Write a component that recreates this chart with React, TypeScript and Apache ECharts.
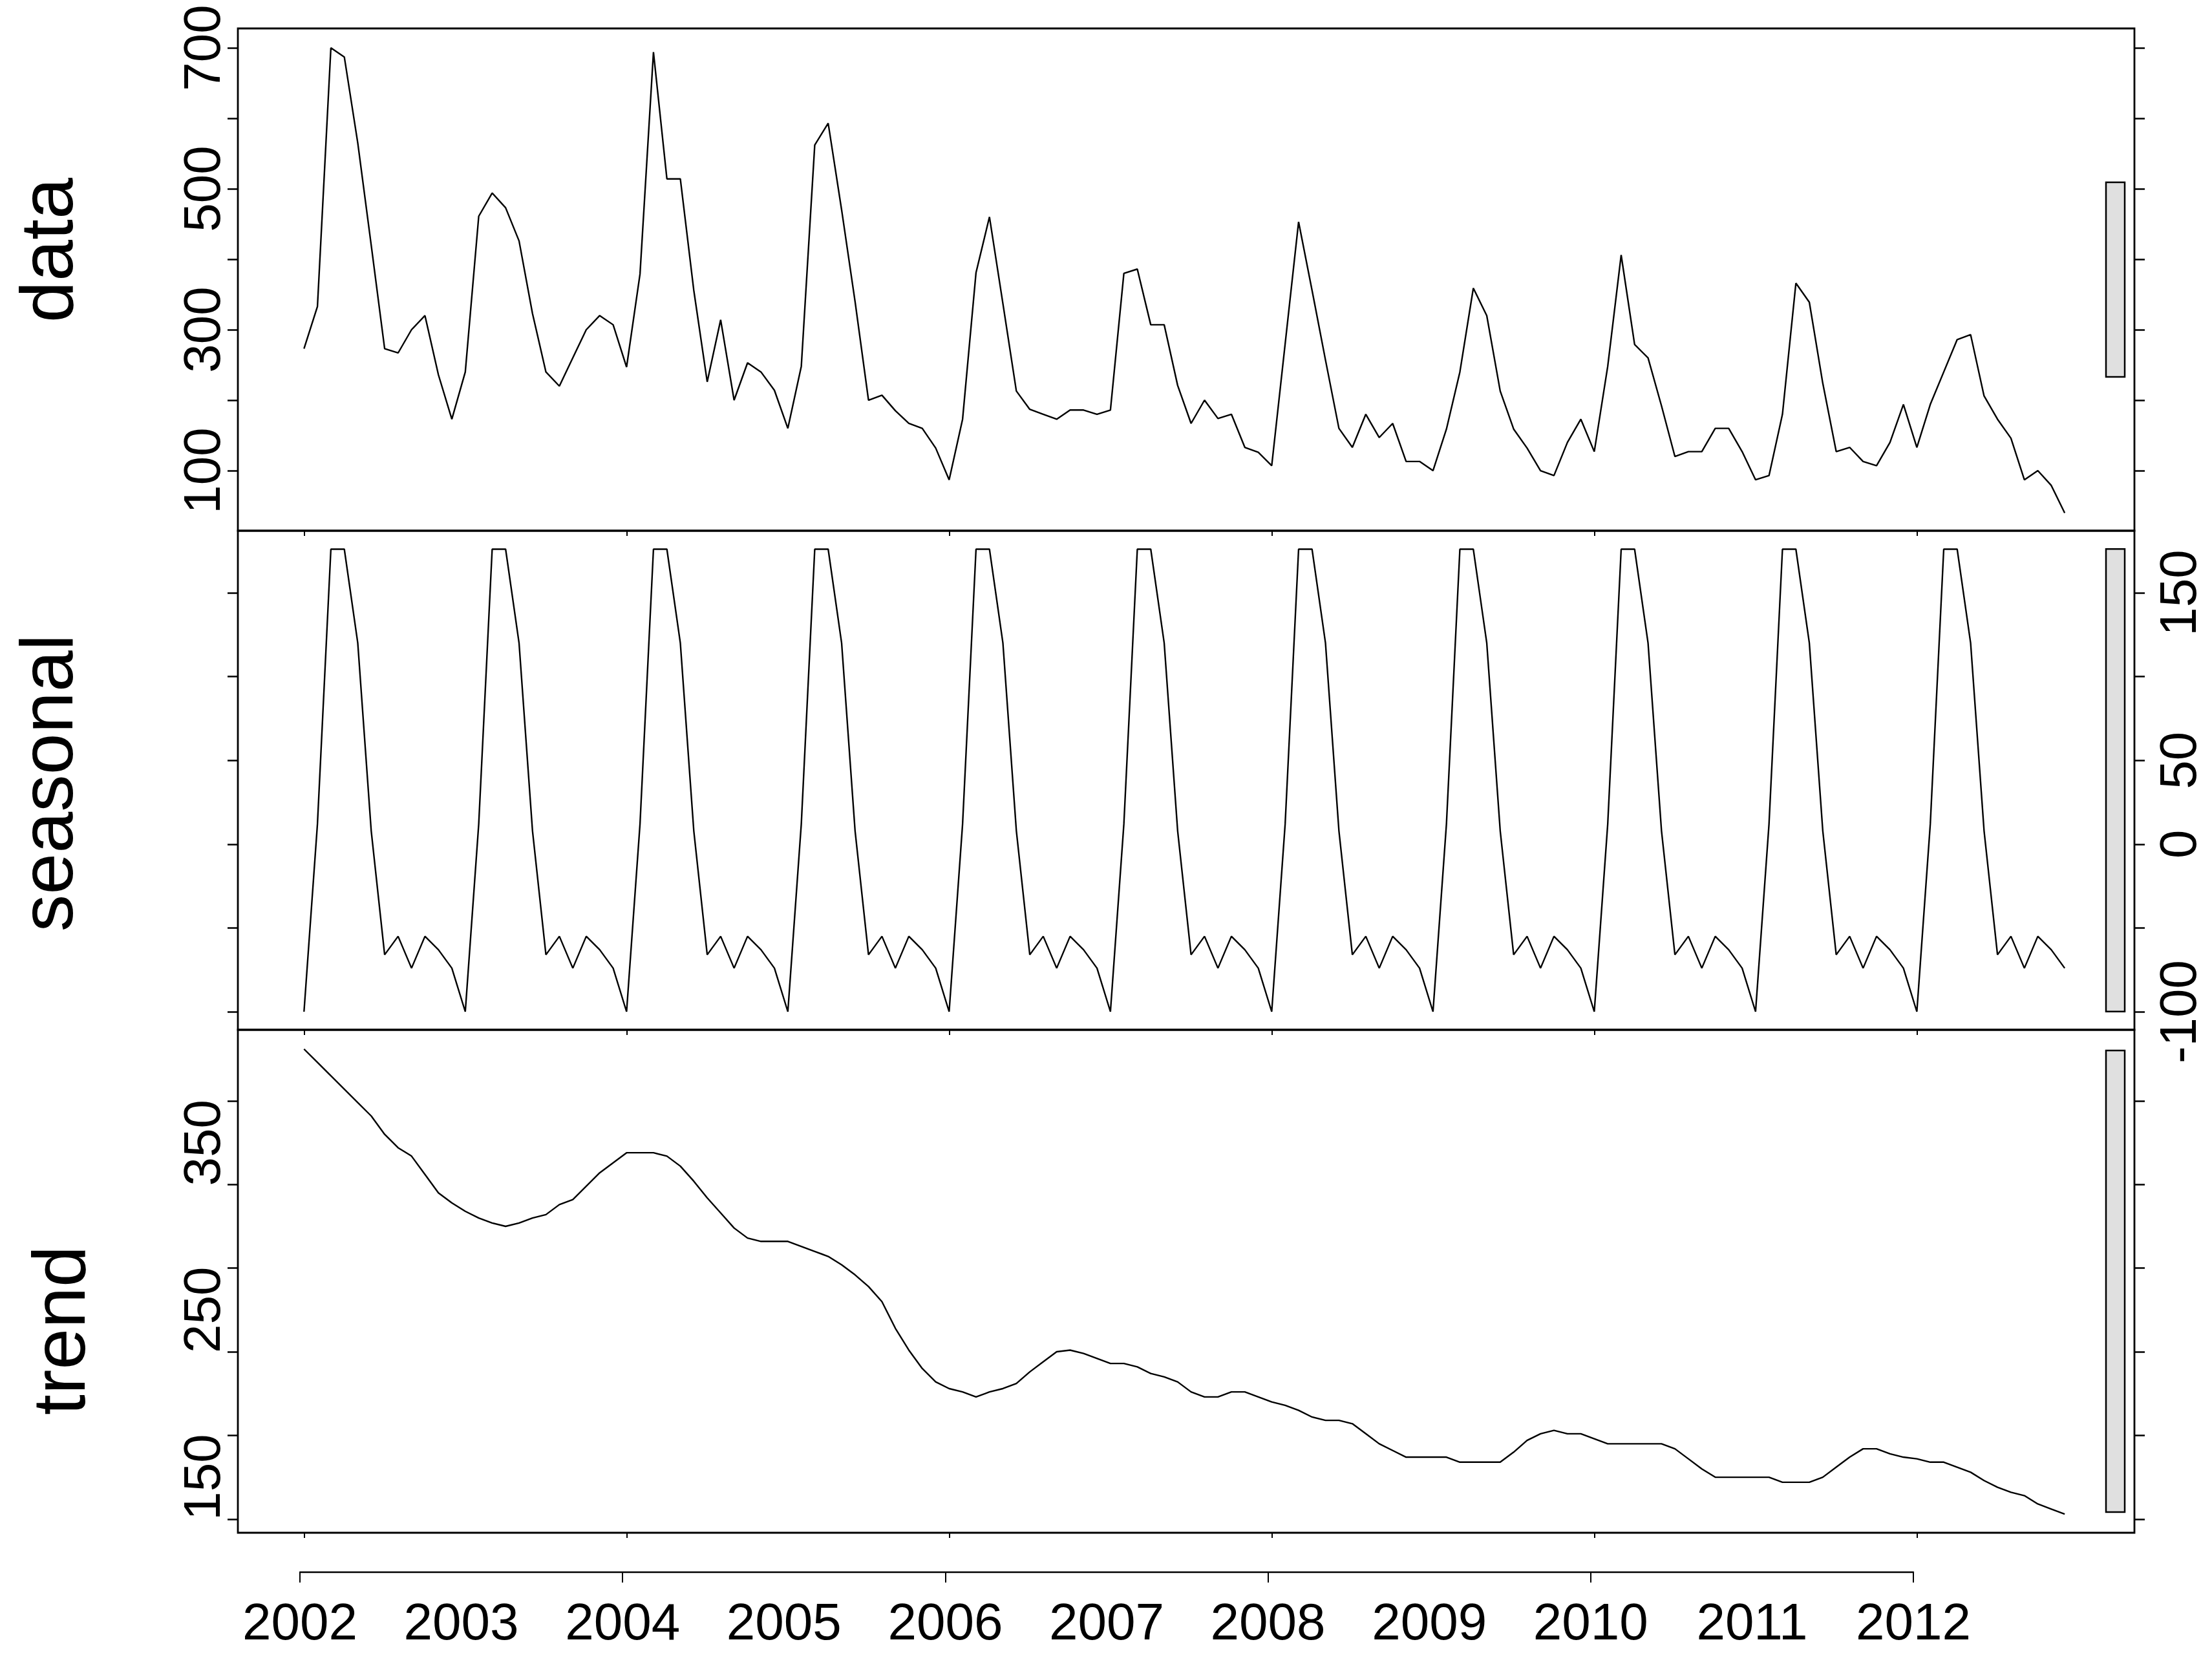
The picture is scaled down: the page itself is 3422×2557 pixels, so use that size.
import React, { useEffect, useRef } from "react";
import * as echarts from "echarts";

// ---------------- data ----------------
const startYear = 2002;
const yearLabels = [2002, 2003, 2004, 2005, 2006, 2007, 2008, 2009, 2010, 2011, 2012];
const yearTicks = [2002, 2004, 2006, 2008, 2010, 2012];

const dataValues = [
  273, 333, 700, 687, 565, 420, 273, 267, 300, 320, 236, 173,
  240, 461, 494, 473, 426, 323, 240, 220, 260, 300, 320, 307,
  247, 379, 694, 514, 514, 356, 226, 314, 200, 253, 240, 214,
  160, 248, 562, 593, 470, 340, 200, 207, 185, 167, 160, 132,
  87, 173, 381, 460, 337, 213, 187, 180, 173, 186, 186, 180,
  186, 380, 386, 307, 307, 221, 167, 200, 174, 180, 133, 126,
  107, 280, 453, 356, 257, 160, 133, 180, 147, 167, 113, 113,
  100, 159, 240, 359, 320, 213, 159, 132, 100, 93, 140, 173,
  127, 248, 406, 279, 260, 192, 120, 127, 127, 160, 160, 127,
  87, 93, 180, 366, 339, 224, 127, 133, 113, 107, 140, 194,
  133, 194, 240, 286, 293, 206, 173, 146, 87, 100, 79, 40,
];

const seasonalValues = [
  -100, 12, 176, 176, 120, 8, -66, -55, -74, -55, -63, -74,
  -100, 12, 176, 176, 120, 8, -66, -55, -74, -55, -63, -74,
  -100, 12, 176, 176, 120, 8, -66, -55, -74, -55, -63, -74,
  -100, 12, 176, 176, 120, 8, -66, -55, -74, -55, -63, -74,
  -100, 12, 176, 176, 120, 8, -66, -55, -74, -55, -63, -74,
  -100, 12, 176, 176, 120, 8, -66, -55, -74, -55, -63, -74,
  -100, 12, 176, 176, 120, 8, -66, -55, -74, -55, -63, -74,
  -100, 12, 176, 176, 120, 8, -66, -55, -74, -55, -63, -74,
  -100, 12, 176, 176, 120, 8, -66, -55, -74, -55, -63, -74,
  -100, 12, 176, 176, 120, 8, -66, -55, -74, -55, -63, -74,
  -100, 12, 176, 176, 120, 8, -66, -55, -74, -55, -63, -74,
];

const trendValues = [
  431, 423, 415, 407, 399, 391, 380, 372, 367, 356, 345, 339,
  334, 330, 327, 325, 327, 330, 332, 338, 341, 349, 357, 363,
  369, 369, 369, 367, 361, 352, 342, 333, 324, 318, 316, 316,
  316, 313, 310, 307, 302, 296, 289, 280, 264, 251, 240, 232,
  228, 226, 223, 226, 228, 231, 238, 244, 250, 251, 249, 246,
  243, 243, 241, 237, 235, 232, 226, 223, 223, 226, 226, 223,
  220, 218, 215, 211, 209, 209, 207, 201, 195, 191, 187, 187,
  187, 187, 184, 184, 184, 184, 190, 197, 201, 203, 201, 201,
  198, 195, 195, 195, 195, 195, 192, 186, 180, 175, 175, 175,
  175, 175, 172, 172, 172, 175, 181, 187, 192, 192, 189, 187,
  186, 184, 184, 181, 178, 173, 169, 166, 164, 159, 156, 153,
];

const dataTicks = [100, 200, 300, 400, 500, 600, 700];
const dataLabels = [100, 300, 500, 700];
const seasonalTicks = [-100, -50, 0, 50, 100, 150];
const seasonalLabels = [-100, 0, 50, 150];
const trendTicks = [150, 200, 250, 300, 350, 400];
const trendLabels = [150, 250, 350];

const panelNames = ["data", "seasonal", "trend"];

// ---------------- layout ----------------
const W = 3422;
const H = 2557;
const FRAME_L = 368;
const FRAME_R = 3302;
const PANEL_Y = [44, 821, 1593, 2371];
const X_MIN = 2001.59;
const X_MAX = 2013.349;
const Y_RANGES: [number, number][] = [
  [14.7, 727.5],
  [-110.8, 187.0],
  [141.8, 442.5],
];
const FONT = "'Liberation Sans', Arial, Helvetica, sans-serif";
const TICK_FONT = 80;

const toPairs = (vals: number[]) => vals.map((v, i) => [startYear + i / 12, v]);

export default function App() {
  const ref = useRef<HTMLDivElement>(null);

  useEffect(() => {
    if (!ref.current) return;
    const chart = echarts.init(ref.current, undefined, { renderer: "svg" });

    const sMin = Math.min(...seasonalValues);
    const sMax = Math.max(...seasonalValues);
    const barHalf = (sMax - sMin) / 2;

    const grids: any[] = [0, 1, 2].map((i) => ({
      left: FRAME_L,
      top: PANEL_Y[i],
      width: FRAME_R - FRAME_L,
      height: PANEL_Y[i + 1] - PANEL_Y[i],
      show: true,
      borderColor: "#000",
      borderWidth: 2.8,
      backgroundColor: "transparent",
      containLabel: false,
    }));
    grids.push({
      left: 464,
      top: 2400,
      width: 2960 - 464,
      height: 32,
      show: false,
      containLabel: false,
    });

    const xAxes: any[] = [0, 1, 2].map((i) => ({
      type: "value",
      gridIndex: i,
      position: "bottom",
      min: X_MIN,
      max: X_MAX,
      axisLine: { show: false, onZero: false },
      axisTick: {
        show: true,
        customValues: yearTicks,
        length: 8,
        lineStyle: { color: "#000", width: 2 },
      },
      axisLabel: { show: false },
      splitLine: { show: false },
    }));
    xAxes.push({
      type: "value",
      gridIndex: 3,
      position: "bottom",
      min: yearLabels[0],
      max: yearLabels[yearLabels.length - 1],
      axisLine: { show: true, onZero: false, lineStyle: { color: "#000", width: 2.4 } },
      axisTick: {
        show: true,
        customValues: yearTicks,
        length: 16,
        lineStyle: { color: "#000", width: 2 },
      },
      axisLabel: {
        show: true,
        customValues: yearLabels,
        formatter: (v: number) => String(v),
        fontSize: TICK_FONT,
        fontFamily: FONT,
        color: "#000",
        margin: 36,
      },
      splitLine: { show: false },
    });

    const tickCfg = (vals: number[]) => ({
      show: true,
      customValues: vals,
      length: 16,
      lineStyle: { color: "#000", width: 2.5 },
    });
    const labelCfg = (vals: number[], margin: number, fmt?: (v: number) => string) => ({
      show: true,
      customValues: vals,
      rotate: 90,
      margin,
      fontSize: TICK_FONT,
      fontFamily: FONT,
      color: "#000",
      formatter: fmt || ((v: number) => String(v)),
    });

    const yAxes: any[] = [
      // panel 0: data
      {
        type: "value", gridIndex: 0, position: "left",
        min: Y_RANGES[0][0], max: Y_RANGES[0][1],
        axisLine: { show: false, onZero: false }, splitLine: { show: false },
        axisTick: tickCfg(dataTicks),
        axisLabel: labelCfg(dataLabels, 16),
      },
      {
        type: "value", gridIndex: 0, position: "right",
        min: Y_RANGES[0][0], max: Y_RANGES[0][1],
        axisLine: { show: false, onZero: false }, splitLine: { show: false },
        axisTick: tickCfg(dataTicks),
        axisLabel: { show: false },
      },
      // panel 1: seasonal
      {
        type: "value", gridIndex: 1, position: "left",
        min: Y_RANGES[1][0], max: Y_RANGES[1][1],
        axisLine: { show: false, onZero: false }, splitLine: { show: false },
        axisTick: tickCfg(seasonalTicks),
        axisLabel: { show: false },
      },
      {
        type: "value", gridIndex: 1, position: "right",
        min: Y_RANGES[1][0], max: Y_RANGES[1][1],
        axisLine: { show: false, onZero: false }, splitLine: { show: false },
        axisTick: tickCfg(seasonalTicks),
        axisLabel: labelCfg(seasonalLabels, 27),
      },
      // panel 2: trend (labels sit between ticks in the reference)
      {
        type: "value", gridIndex: 2, position: "left",
        min: Y_RANGES[2][0], max: Y_RANGES[2][1],
        axisLine: { show: false, onZero: false }, splitLine: { show: false },
        axisTick: tickCfg(trendTicks),
        axisLabel: labelCfg(trendLabels.map((v) => v + 25), 16, (v: number) => String(v - 25)),
      },
      {
        type: "value", gridIndex: 2, position: "right",
        min: Y_RANGES[2][0], max: Y_RANGES[2][1],
        axisLine: { show: false, onZero: false }, splitLine: { show: false },
        axisTick: tickCfg(trendTicks),
        axisLabel: { show: false },
      },
      // bottom axis grid (hidden y)
      {
        type: "value", gridIndex: 3, show: false, min: 0, max: 1,
      },
    ];

    const lineSeries = (vals: number[], i: number) => ({
      type: "line",
      xAxisIndex: i,
      yAxisIndex: i * 2,
      data: toPairs(vals),
      symbol: "none",
      lineStyle: { color: "#000", width: 2.4 },
      silent: true,
    });

    const barSeries = (i: number) => {
      const center = (Y_RANGES[i][0] + Y_RANGES[i][1]) / 2;
      return {
        type: "custom",
        xAxisIndex: i,
        yAxisIndex: i * 2,
        data: [[X_MAX, center - barHalf, center + barHalf]],
        encode: { x: 0, y: [1, 2] },
        silent: true,
        renderItem: (params: any, api: any) => {
          const cs = params.coordSys;
          const yTop = api.coord([api.value(0), api.value(2)])[1];
          const yBot = api.coord([api.value(0), api.value(1)])[1];
          return {
            type: "rect",
            shape: { x: cs.x + cs.width - 15 - 29, y: yTop, width: 29, height: yBot - yTop },
            style: { fill: "#e0e0e0", stroke: "#000", lineWidth: 2.5 },
          };
        },
      };
    };

    const nameX = [72, 72, 91];
    const nameY = [387, 1211, 2058];
    const graphics = panelNames.map((n, i) => ({
      type: "text",
      x: nameX[i],
      y: nameY[i],
      rotation: Math.PI / 2,
      silent: true,
      style: {
        text: n,
        font: `115px ${FONT}`,
        fill: "#000",
        textAlign: "center",
        textVerticalAlign: "middle",
      },
    }));

    chart.setOption({
      animation: false,
      backgroundColor: "#fff",
      textStyle: { fontFamily: FONT },
      grid: grids,
      xAxis: xAxes,
      yAxis: yAxes,
      graphic: graphics,
      series: [
        lineSeries(dataValues, 0),
        lineSeries(seasonalValues, 1),
        lineSeries(trendValues, 2),
        barSeries(0),
        barSeries(1),
        barSeries(2),
        { type: "line", xAxisIndex: 3, yAxisIndex: 6, data: [], symbol: "none" },
      ],
    });

    return () => chart.dispose();
  }, []);

  return (
    <div
      ref={ref}
      style={{ position: "absolute", left: 0, top: 0, width: W, height: H, background: "#fff" }}
    />
  );
}
